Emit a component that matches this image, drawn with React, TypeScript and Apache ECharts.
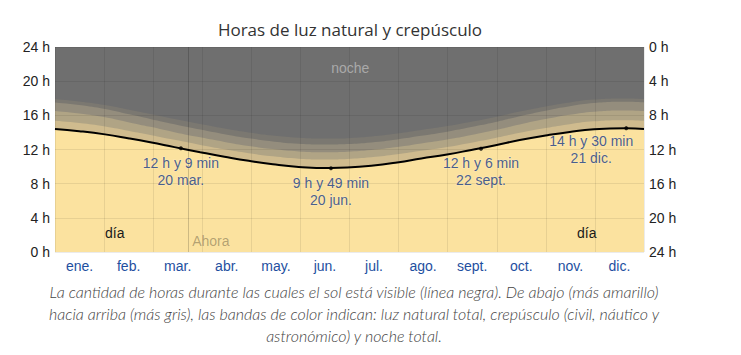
import React, { useEffect, useRef } from "react";
import * as echarts from "echarts";

// ---- Data ----
const months = ["ene.", "feb.", "mar.", "abr.", "may.", "jun.", "jul.", "ago.", "sept.", "oct.", "nov.", "dic."];

// day of year (0 = 1 Jan)
const sampleDays = [0, 15, 31, 46, 59, 74, 90, 105, 120, 135, 151, 171, 181, 196, 212, 227, 243, 258, 273, 288, 304, 319, 334, 354, 365];
// hours of visible sun (black line)
const daylight = [14.41, 14.15, 13.77, 13.29, 12.84, 12.28, 11.69, 11.16, 10.67, 10.26, 9.96, 9.83, 9.88, 10.1, 10.48, 10.94, 11.42, 11.95, 12.5, 13.1, 13.64, 14.06, 14.36, 14.48, 14.41];
// twilight band thicknesses (hours), from the yellowest to the greyest
const band1 = [0.95, 0.94, 0.92, 0.88, 0.86, 0.85, 0.85, 0.87, 0.9, 0.94, 0.97, 1.0, 1.0, 0.98, 0.95, 0.9, 0.87, 0.85, 0.85, 0.86, 0.88, 0.91, 0.94, 0.95, 0.95];
const band2 = [1.15, 1.13, 1.08, 1.0, 0.95, 0.9, 0.88, 0.86, 0.85, 0.85, 0.85, 0.85, 0.85, 0.85, 0.85, 0.86, 0.88, 0.9, 0.93, 0.98, 1.05, 1.1, 1.13, 1.15, 1.15];
const band3 = [1.0, 0.99, 0.97, 0.95, 0.93, 0.92, 0.91, 0.9, 0.9, 0.9, 0.9, 0.9, 0.9, 0.9, 0.9, 0.9, 0.91, 0.92, 0.93, 0.95, 0.97, 0.99, 1.0, 1.0, 1.0];
const band4 = [0.4, 0.42, 0.47, 0.53, 0.58, 0.62, 0.65, 0.67, 0.68, 0.69, 0.7, 0.7, 0.7, 0.7, 0.69, 0.68, 0.66, 0.63, 0.6, 0.55, 0.5, 0.45, 0.42, 0.4, 0.4];

// annotated points
const noteDays = [78, 171, 264, 354];
const noteHours = [12 + 9 / 60, 9 + 49 / 60, 12 + 6 / 60, 14 + 30 / 60];
const noteDates = ["20 mar.", "20 jun.", "22 sept.", "21 dic."];
const noteTexts = ["12 h y 9 min", "9 h y 49 min", "12 h y 6 min", "14 h y 30 min"];

const nowDay = 82.5;

const captionLines = [
  "La cantidad de horas durante las cuales el sol está visible (línea negra). De abajo (más amarillo)",
  "hacia arriba (más gris), las bandas de color indican: luz natural total, crepúsculo (civil, náutico y",
  "astronómico) y noche total.",
];

const COLORS = {
  day: "#FBE29F",
  b1: "#CFBB8E",
  b2: "#B0A485",
  b3: "#948D7D",
  b4: "#7B7871",
  night: "#6F6F6F",
};

export default function App() {
  const ref = useRef<HTMLDivElement>(null);

  useEffect(() => {
    if (!ref.current) return;
    const chart = echarts.init(ref.current, undefined, { renderer: "svg" });

    const cum1 = daylight.map((d, i) => d + band1[i]);
    const cum2 = cum1.map((d, i) => d + band2[i]);
    const cum3 = cum2.map((d, i) => d + band3[i]);
    const cum4 = cum3.map((d, i) => d + band4[i]);
    const toData = (arr: number[]) => arr.map((v, i) => [sampleDays[i], v]);

    const area = (name: string, arr: number[], color: string) => ({
      name,
      type: "line",
      xAxisIndex: 0,
      yAxisIndex: 0,
      data: toData(arr),
      smooth: true,
      showSymbol: false,
      symbol: "none",
      lineStyle: { width: 0 },
      areaStyle: { color, opacity: 1 },
      silent: true,
      z: 2,
    });

    const font = "Liberation Sans, Arial, sans-serif";

    chart.setOption({
      animation: false,
      backgroundColor: "#ffffff",
      grid: {
        left: 55,
        top: 47,
        width: 589,
        height: 205,
        show: true,
        backgroundColor: COLORS.night,
        borderWidth: 0,
      },
      xAxis: [
        { type: "value", min: 0, max: 365, show: false },
        {
          type: "category",
          data: months,
          position: "bottom",
          boundaryGap: true,
          axisLine: { show: false },
          axisTick: { show: false },
          axisLabel: { color: "#1E4FA0", fontSize: 14, margin: 7, interval: 0, fontFamily: font },
          splitLine: { show: true, interval: 0, lineStyle: { color: "rgba(0,0,0,0.08)", width: 1 } },
          z: 3,
        },
      ],
      yAxis: [
        {
          type: "value",
          min: 0,
          max: 24,
          interval: 4,
          axisLine: { show: false },
          axisTick: { show: false },
          axisLabel: { formatter: "{value} h", color: "#222", fontSize: 14, margin: 5, fontFamily: font },
          splitLine: { show: true, lineStyle: { color: "rgba(0,0,0,0.08)", width: 1 } },
          z: 3,
        },
        {
          type: "value",
          min: 0,
          max: 24,
          interval: 4,
          inverse: true,
          position: "right",
          axisLine: { show: false },
          axisTick: { show: false },
          axisLabel: { formatter: "{value} h", color: "#222", fontSize: 14, margin: 5, fontFamily: font },
          splitLine: { show: false },
        },
      ],
      series: [
        area("band4", cum4, COLORS.b4),
        area("band3", cum3, COLORS.b3),
        area("band2", cum2, COLORS.b2),
        area("band1", cum1, COLORS.b1),
        area("day", daylight, COLORS.day),
        {
          name: "daylight",
          type: "line",
          xAxisIndex: 0,
          yAxisIndex: 0,
          data: toData(daylight),
          smooth: true,
          showSymbol: false,
          symbol: "none",
          lineStyle: { color: "#000", width: 2 },
          z: 5,
          markLine: {
            silent: true,
            symbol: "none",
            label: { show: false },
            lineStyle: { color: "rgba(0,0,0,0.18)", width: 1, type: "solid" },
            data: [{ xAxis: nowDay }],
          },
        },
        {
          name: "notes",
          type: "scatter",
          xAxisIndex: 0,
          yAxisIndex: 0,
          symbolSize: 4,
          itemStyle: { color: "#000" },
          z: 6,
          data: noteDays.map((d, i) => ({
            value: [d, noteHours[i]],
            label: i === 3 ? { offset: [-35, -2] } : undefined,
          })),
          label: {
            show: true,
            position: "bottom",
            distance: 4,
            color: "#173A85",
            fontSize: 14,
            lineHeight: 17,
            fontFamily: font,
            textBorderColor: "rgba(255,255,255,0.2)",
            textBorderWidth: 1.5,
            formatter: (p: any) => noteTexts[p.dataIndex] + "\n" + noteDates[p.dataIndex],
          },
        },
      ],
    });

    const px = (d: number, h: number) => chart.convertToPixel({ xAxisIndex: 0, yAxisIndex: 0 }, [d, h]) as number[];
    const pNoche = px(183, 21.5);
    const pDia1 = px(37, 2.2);
    const pDia2 = px(329.5, 2.2);
    const pAhora = px(nowDay, 1.3);
    const captionFont = "Lato, 'Open Sans', sans-serif";

    chart.setOption({
      graphic: [
        {
          type: "text",
          x: 350,
          y: 29,
          style: {
            text: "Horas de luz natural y crepúsculo",
            fill: "#333",
            font: "17px 'Open Sans', sans-serif",
            align: "center",
            verticalAlign: "middle",
          },
        },
        {
          type: "text",
          x: pNoche[0],
          y: pNoche[1],
          z: 10,
          style: { text: "noche", fill: "#A9A9A9", font: `14px ${font}`, align: "center", verticalAlign: "middle" },
        },
        {
          type: "text",
          x: pDia1[0],
          y: pDia1[1],
          z: 10,
          style: { text: "día", fill: "#1a1a1a", font: `14px ${font}`, align: "center", verticalAlign: "middle" },
        },
        {
          type: "text",
          x: pDia2[0],
          y: pDia2[1],
          z: 10,
          style: { text: "día", fill: "#1a1a1a", font: `14px ${font}`, align: "center", verticalAlign: "middle" },
        },
        {
          type: "text",
          x: pAhora[0] + 4,
          y: pAhora[1],
          z: 10,
          style: { text: "Ahora", fill: "rgba(0,0,0,0.3)", font: `14px ${font}`, align: "left", verticalAlign: "middle" },
        },
        ...captionLines.map((t, i) => ({
          type: "text",
          x: 354,
          y: 291 + i * 22,
          style: {
            text: t,
            fill: "#444",
            font: `italic 300 16px ${captionFont}`,
            align: "center",
            verticalAlign: "middle",
          },
        })),
      ],
    });

    return () => chart.dispose();
  }, []);

  return (
    <div
      ref={ref}
      style={{ position: "absolute", left: 0, top: 0, width: 741, height: 355 }}
    />
  );
}
